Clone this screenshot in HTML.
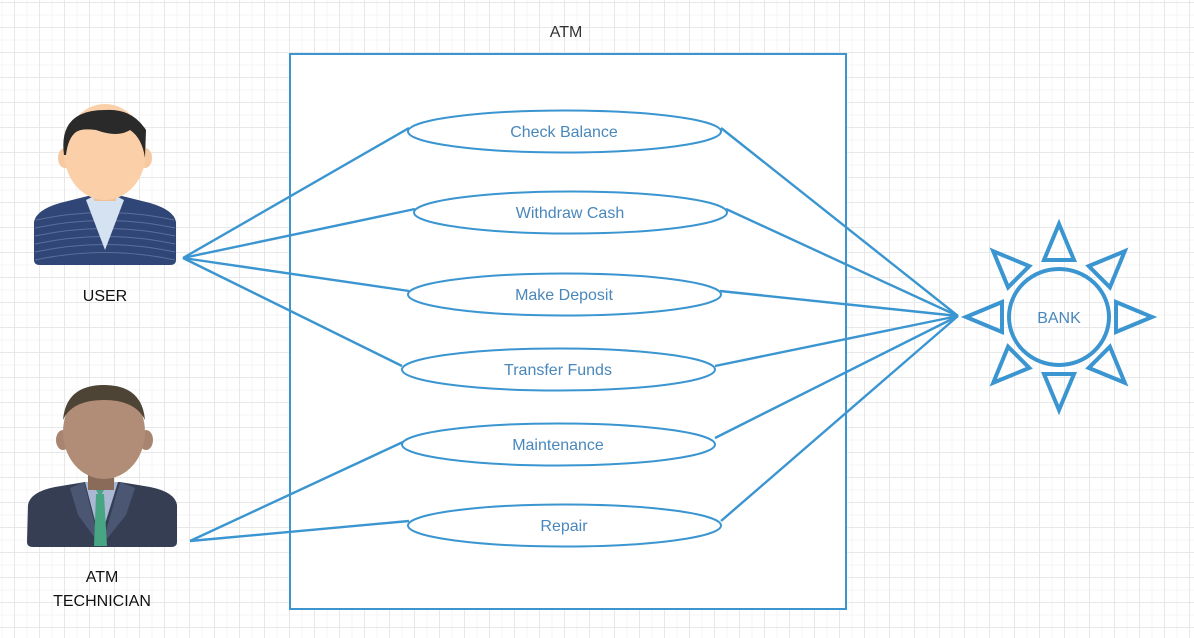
<!DOCTYPE html>
<html><head><meta charset="utf-8"><style>
html,body{margin:0;padding:0;}
body{width:1194px;height:638px;overflow:hidden;background:#fff;
background-image:linear-gradient(to right,#e8e8e8 1px,transparent 1px),linear-gradient(to bottom,#e8e8e8 1px,transparent 1px),linear-gradient(to right,#f4f4f4 1px,transparent 1px),linear-gradient(to bottom,#f4f4f4 1px,transparent 1px);
background-size:25px 25px,25px 25px,12.5px 12.5px,12.5px 12.5px;background-position:14px 2px,14px 2px,14px 2px,14px 2px;}
svg{position:absolute;left:0;top:0;}
text{font-family:"Liberation Sans",sans-serif;}
</style></head><body>
<svg width="1194" height="638" viewBox="0 0 1194 638">
<text x="566" y="37" text-anchor="middle" font-size="16" fill="#333">ATM</text>
<rect x="290" y="54" width="556" height="555" fill="#fff" stroke="#3a95d0" stroke-width="2"/>
<g stroke="#3a95d0" stroke-width="2.4" fill="none">
<line x1="183" y1="258" x2="409" y2="128"/>
<line x1="183" y1="258" x2="415" y2="209"/>
<line x1="183" y1="258" x2="409" y2="291"/>
<line x1="183" y1="258" x2="402" y2="366"/>
<line x1="190" y1="541" x2="403" y2="442"/>
<line x1="190" y1="541" x2="409" y2="521"/>
<line x1="958" y1="316" x2="721" y2="128"/>
<line x1="958" y1="316" x2="726" y2="209"/>
<line x1="958" y1="316" x2="720" y2="291"/>
<line x1="958" y1="316" x2="715" y2="366"/>
<line x1="958" y1="316" x2="715" y2="438"/>
<line x1="958" y1="316" x2="721" y2="521"/>
</g>
<g stroke="#3a95d0" stroke-width="2" fill="#fff">
<ellipse cx="564.5" cy="131.5" rx="156.5" ry="21"/>
<ellipse cx="570.5" cy="212.5" rx="156.5" ry="21"/>
<ellipse cx="564.5" cy="294.5" rx="156.5" ry="21"/>
<ellipse cx="558.5" cy="369.5" rx="156.5" ry="21"/>
<ellipse cx="558.5" cy="444.5" rx="156.5" ry="21"/>
<ellipse cx="564.5" cy="525.5" rx="156.5" ry="21"/>
</g>
<g font-size="16" fill="#4a87bb" text-anchor="middle">
<text x="564" y="137">Check Balance</text>
<text x="570" y="218">Withdraw Cash</text>
<text x="564" y="300">Make Deposit</text>
<text x="558" y="375">Transfer Funds</text>
<text x="558" y="450">Maintenance</text>
<text x="564" y="531">Repair</text>
</g>
<g stroke="#3a95d0" stroke-width="4" fill="none">
<ellipse cx="1059" cy="317" rx="50" ry="48"/>
<g id="t"><polygon points="1059,224 1074,260 1044,260"/></g>
<use href="#t" transform="rotate(45 1059 317)"/>
<use href="#t" transform="rotate(90 1059 317)"/>
<use href="#t" transform="rotate(135 1059 317)"/>
<use href="#t" transform="rotate(180 1059 317)"/>
<use href="#t" transform="rotate(225 1059 317)"/>
<use href="#t" transform="rotate(270 1059 317)"/>
<use href="#t" transform="rotate(315 1059 317)"/>
</g>
<text x="1059" y="323" text-anchor="middle" font-size="16" fill="#4a87bb">BANK</text>
<path d="M34,222 Q36,210 60,203 L88,196 L122,196 L150,203 Q174,210 176,222 L176,260 Q176,265 170,265 L40,265 Q34,265 34,260 Z" fill="#2f4676"/>
<g stroke="#5a6f9c" stroke-width="1" fill="none">
<path d="M36,220 Q105,205 174,220"/><path d="M35,228 Q105,213 175,228"/><path d="M35,236 Q105,221 175,236"/><path d="M35,244 Q105,229 175,244"/><path d="M35,252 Q105,237 175,252"/><path d="M35,260 Q105,245 175,260"/>
</g>
<path d="M86,200 L105,250 L124,200 L116,196 L94,196 Z" fill="#d4e2f1"/>
<rect x="94" y="183" width="22" height="18" fill="#f0c096"/>
<ellipse cx="65" cy="158" rx="7" ry="10" fill="#f6c9a0"/>
<ellipse cx="145" cy="158" rx="7" ry="10" fill="#f6c9a0"/>
<ellipse cx="105" cy="152" rx="41" ry="48" fill="#fbd0a8"/>
<path d="M64,155 Q58,110 105,110 Q132,108 146,130 L145,158 Q142,138 130,130 Q118,138 96,130 Q82,128 76,132 Q68,138 66,155 Z" fill="#2a2a2a"/>
<text x="105" y="301" text-anchor="middle" font-size="16" fill="#111">USER</text>
<path d="M28,505 Q30,492 55,487 L85,482 L120,482 L150,487 Q175,492 177,505 L177,542 Q177,547 171,547 L33,547 Q27,547 27,542 Z" fill="#363e54"/>
<path d="M85,482 L100,540 L118,482 Z" fill="#aab8d4"/>
<path d="M70,488 L84,482 L100,545 L78,515 Z M135,488 L120,482 L102,545 L126,515 Z" fill="#4b5673"/>
<path d="M96,494 L104,494 L107,546 L94,546 Z" fill="#47a583"/>
<path d="M96,490 L100,497 L104,490 Z" fill="#47a583"/>
<rect x="88" y="472" width="26" height="18" fill="#8a6a58"/>
<ellipse cx="63" cy="440" rx="7" ry="10" fill="#a88570"/>
<ellipse cx="146" cy="440" rx="7" ry="10" fill="#a88570"/>
<ellipse cx="104" cy="432" rx="41" ry="47" fill="#b18d77"/>
<path d="M63,420 Q66,385 104,385 Q142,385 145,420 Q135,400 104,400 Q72,400 63,420 Z" fill="#4e4436"/>
<text x="102" y="582" text-anchor="middle" font-size="16" fill="#111">ATM</text>
<text x="102" y="606" text-anchor="middle" font-size="16" fill="#111">TECHNICIAN</text>
</svg>
</body></html>
